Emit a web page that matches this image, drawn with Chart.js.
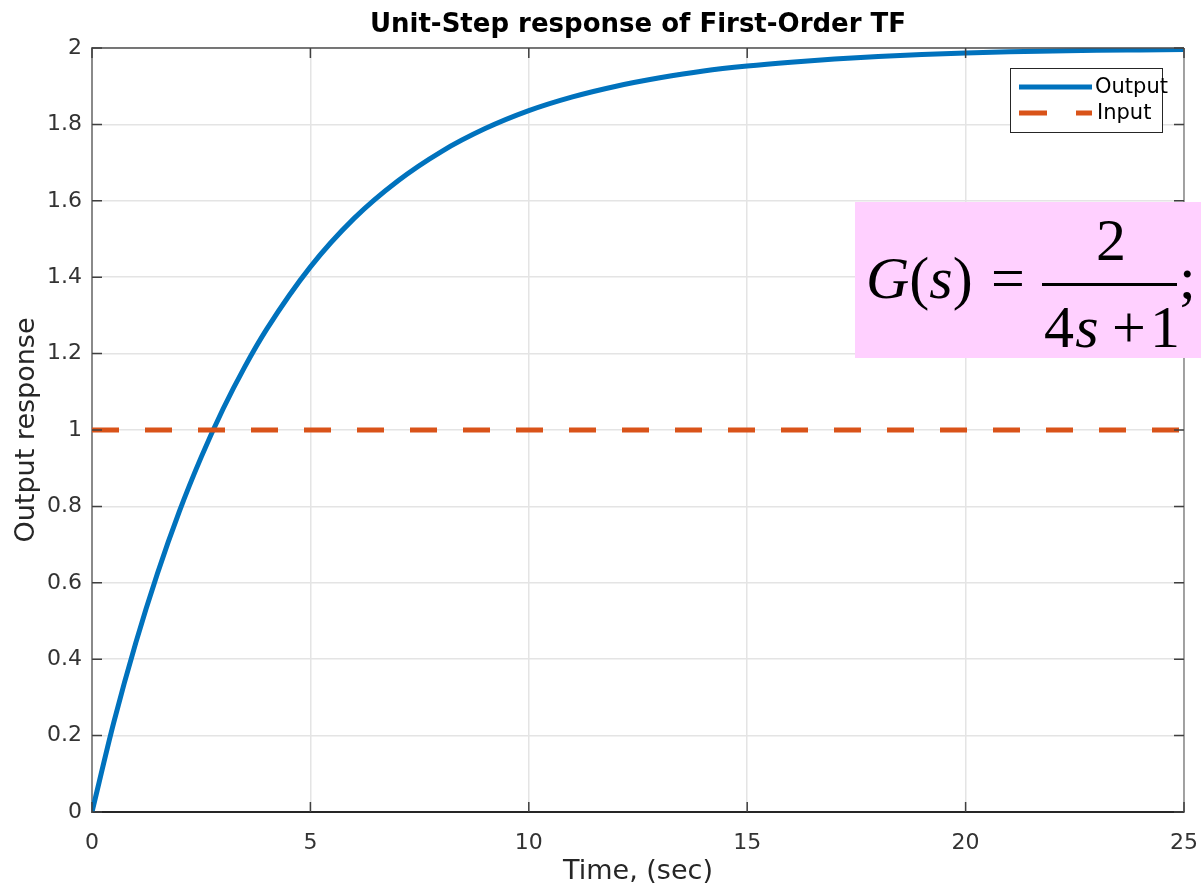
<!DOCTYPE html>
<html>
<head>
<meta charset="utf-8">
<title>Unit-Step response of First-Order TF</title>
<script src="https://cdn.jsdelivr.net/npm/chart.js@4.4.1/dist/chart.umd.min.js"></script>
<style>
	html, body { margin: 0; padding: 0; background: #fff; }
	#wrap { position: relative; width: 1201px; height: 889px; }
</style>
</head>
<body>
<div id="wrap"><canvas id="stepChart" width="1201" height="889"></canvas></div>
<script>
// values
const timeSec = [0, 0.5, 1, 1.5, 2, 2.5, 3, 3.5, 4, 5, 6, 7, 8, 9, 10, 11, 12, 13, 14, 15, 16, 17, 18, 19, 20, 21, 22, 23, 24, 25]
const outputResp = [0, 0.235, 0.442, 0.625, 0.787, 0.929, 1.055, 1.166, 1.264, 1.427, 1.554, 1.652, 1.729, 1.789, 1.836, 1.872, 1.900, 1.922, 1.940, 1.953, 1.963, 1.971, 1.978, 1.983, 1.987, 1.990, 1.992, 1.994, 1.995, 1.996]
const inputTime = [0, 25]
const inputResp = [1, 1]
const xTicks = [0, 5, 10, 15, 20, 25]
const yTicks = [0, 0.2, 0.4, 0.6, 0.8, 1, 1.2, 1.4, 1.6, 1.8, 2]

const BLUE = '#0072bd'
const ORANGE = '#d95319'
const SANS = '"DejaVu Sans", sans-serif'
const SERIF = '"Liberation Serif", "Times New Roman", serif'

const toPoints = (xs, ys) => xs.map((x, i) => ({ x: x, y: ys[i] }))

// title, inner ticks, top/right border, legend, equation box
const decorations = {
	id: 'decorations',
	afterDatasetsDraw(chart) {
		const { ctx, chartArea: a, scales } = chart
		ctx.save()

		// top + right frame
		ctx.lineWidth = 1.5
		ctx.strokeStyle = '#505050'
		ctx.beginPath()
		ctx.moveTo(a.left, a.top)
		ctx.lineTo(a.right, a.top)
		ctx.stroke()
		ctx.strokeStyle = '#8a8a8a'
		ctx.beginPath()
		ctx.moveTo(a.right, a.top)
		ctx.lineTo(a.right, a.bottom)
		ctx.stroke()

		// MATLAB style inward ticks
		ctx.strokeStyle = '#404040'
		ctx.lineWidth = 1.5
		ctx.beginPath()
		xTicks.forEach(v => {
			const px = scales.x.getPixelForValue(v)
			ctx.moveTo(px, a.bottom); ctx.lineTo(px, a.bottom - 10)
			ctx.moveTo(px, a.top); ctx.lineTo(px, a.top + 10)
		})
		yTicks.forEach(v => {
			const py = scales.y.getPixelForValue(v)
			ctx.moveTo(a.left, py); ctx.lineTo(a.left + 10, py)
			ctx.moveTo(a.right, py); ctx.lineTo(a.right - 10, py)
		})
		ctx.stroke()

		// title
		ctx.fillStyle = '#000'
		ctx.font = 'bold 26px ' + SANS
		ctx.textAlign = 'center'
		ctx.textBaseline = 'alphabetic'
		ctx.fillText('Unit-Step response of First-Order TF', (a.left + a.right) / 2, 32)

		// legend
		const lg = { x: 1010, y: 68, w: 152, h: 64 }
		ctx.fillStyle = '#fff'
		ctx.fillRect(lg.x, lg.y, lg.w, lg.h)
		ctx.strokeStyle = '#262626'
		ctx.lineWidth = 1
		ctx.strokeRect(lg.x + 0.5, lg.y + 0.5, lg.w, lg.h)
		ctx.lineWidth = 5
		ctx.strokeStyle = BLUE
		ctx.beginPath()
		ctx.moveTo(1019, 87); ctx.lineTo(1092, 87)
		ctx.stroke()
		ctx.strokeStyle = ORANGE
		ctx.setLineDash([28, 29])
		ctx.beginPath()
		ctx.moveTo(1019, 113); ctx.lineTo(1092, 113)
		ctx.stroke()
		ctx.setLineDash([])
		ctx.fillStyle = '#000'
		ctx.font = '21px ' + SANS
		ctx.textAlign = 'left'
		ctx.textBaseline = 'middle'
		ctx.fillText('Output', 1095, 88)
		ctx.fillText('Input', 1097, 114)

		// transfer function box
		ctx.fillStyle = '#ffd0ff'
		ctx.fillRect(855, 202, 346, 156)
		ctx.fillStyle = '#000'
		ctx.textBaseline = 'alphabetic'
		const it = 'italic 60px ' + SERIF
		const up = '60px ' + SERIF
		let x = 866
		const put = (txt, font, y) => {
			ctx.font = font
			ctx.fillText(txt, x, y)
			x += ctx.measureText(txt).width
		}
		put('G', it, 298)
		put('(', up, 298)
		put('s', it, 298)
		put(')', up, 298)
		ctx.font = up
		ctx.fillText('=', 991, 298)
		ctx.fillText(';', 1179, 298)
		ctx.textAlign = 'center'
		ctx.fillText('2', 1111, 260)
		ctx.fillText('+', 1129, 347)
		ctx.fillText('1', 1165, 347)
		ctx.fillText('4', 1059, 347)
		ctx.font = it
		ctx.fillText('s', 1087, 347)
		ctx.fillRect(1042, 283, 135, 3)

		ctx.restore()
	},
}

const ctx = document.getElementById('stepChart').getContext('2d')
const stepChart = new Chart(ctx, {
	type: 'line',
	data: {
		datasets: [
			{
				label: 'Output',
				data: toPoints(timeSec, outputResp),
				borderColor: BLUE,
				backgroundColor: BLUE,
				borderWidth: 5,
				pointRadius: 0,
				cubicInterpolationMode: 'monotone',
				order: 2,
			},
			{
				label: 'Input',
				data: toPoints(inputTime, inputResp),
				borderColor: ORANGE,
				backgroundColor: ORANGE,
				borderWidth: 5,
				borderDash: [27, 26],
				pointRadius: 0,
				order: 1,
			},
		],
	},
	options: {
		responsive: false,
		animation: false,
		devicePixelRatio: 1,
		layout: {
			padding: { top: 48, right: 17, left: 0, bottom: 0 },
		},
		plugins: {
			legend: { display: false },
			title: { display: false },
			tooltip: { enabled: false },
		},
		scales: {
			x: {
				type: 'linear',
				min: 0,
				max: 25,
				afterFit: s => {
					s.height = 77
					s.paddingLeft = 0
					s.paddingRight = 0
				},
				afterBuildTicks: s => { s.ticks = xTicks.map(v => ({ value: v })) },
				ticks: {
					autoSkip: false,
					maxRotation: 0,
					padding: 18,
					color: '#333',
					font: { family: SANS, size: 22 },
				},
				grid: { color: '#e4e4e4', lineWidth: 1.5, drawTicks: false },
				border: { display: true, color: '#262626', width: 2 },
				title: {
					display: true,
					text: 'Time, (sec)',
					color: '#262626',
					font: { family: SANS, size: 27 },
					padding: { top: 0, bottom: 1 },
				},
			},
			y: {
				min: 0,
				max: 2,
				afterFit: s => {
					s.width = 92
					s.paddingTop = 0
					s.paddingBottom = 0
				},
				afterBuildTicks: s => { s.ticks = yTicks.map(v => ({ value: v })) },
				ticks: {
					autoSkip: false,
					padding: 10,
					color: '#333',
					font: { family: SANS, size: 22 },
					callback: v => String(+v.toFixed(1)),
				},
				grid: { color: '#e4e4e4', lineWidth: 1.5, drawTicks: false },
				border: { display: true, color: '#8a8a8a', width: 2 },
				title: {
					display: true,
					text: 'Output response',
					color: '#262626',
					font: { family: SANS, size: 27 },
					padding: { top: 11, bottom: 0 },
				},
			},
		},
	},
	plugins: [decorations],
})
</script>
</body>
</html>
